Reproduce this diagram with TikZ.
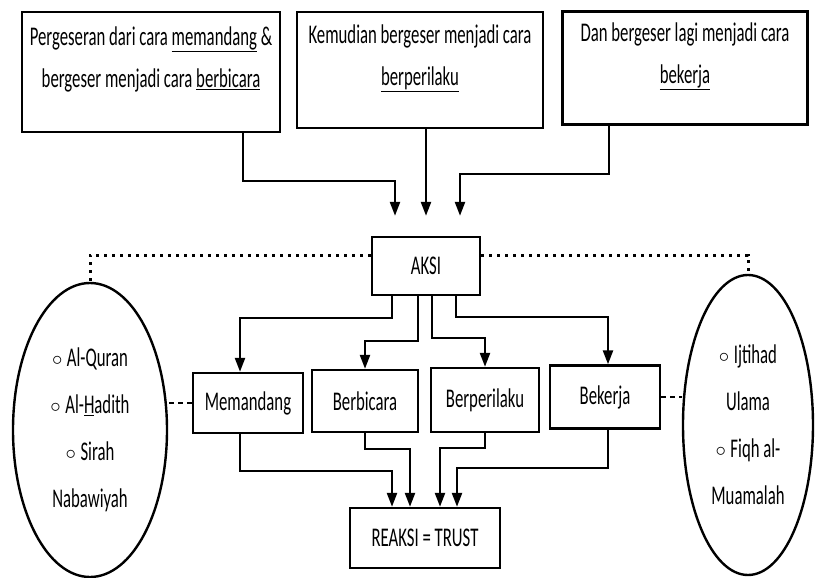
\documentclass[tikz,border=0pt]{standalone}
\usepackage{fontspec}
\setmainfont{Carlito}[FakeStretch=0.62]
\usetikzlibrary{arrows.meta,shapes.geometric}
\newcommand\bul{\raisebox{1.5pt}{\fontsize{21}{21}\selectfont$\circ$}}

\begin{document}
\begin{tikzpicture}
  [x=1pt, y=-1pt, line width=2.4pt, >={Triangle[length=14pt,width=10pt]},
   box/.style={draw, rectangle, inner sep=0pt, font=\fontsize{27}{42}\selectfont},
   shiftbox/.style={box, align=center, text depth=30pt},
   dalilbox/.style={draw, ellipse, inner sep=0pt, align=center, font=\fontsize{27}{47}\selectfont},
   dots/.style={line width=3pt, dash pattern=on 3pt off 5pt},
   dashes/.style={line width=2pt, dash pattern=on 5pt off 4pt}]
  \useasboundingbox (0,0) rectangle (815,578);
  \node[shiftbox, minimum width=258, minimum height=120] (s1) at (151,72)
    {Pergeseran dari cara \underline{memandang} \&\\ bergeser menjadi cara \underline{berbicara}};
  \node[shiftbox, minimum width=246, minimum height=116] (s2) at (420,70)
    {Kemudian bergeser menjadi cara\\ \underline{berperilaku}};
  \node[shiftbox, minimum width=245, minimum height=113] (s3) at (685,68)
    {Dan bergeser lagi menjadi cara\\ \underline{bekerja}};
  \node[box, minimum width=108, minimum height=58] (aksi) at (426,266) {AKSI};
  \node[box, minimum width=110, minimum height=60] (m1) at (248,403) {Memandang};
  \node[box, minimum width=106, minimum height=62] (m2) at (365,401) {Berbicara};
  \node[box, minimum width=108, minimum height=64] (m3) at (485,400) {Berperilaku};
  \node[box, minimum width=110, minimum height=63] (m4) at (605,397) {Bekerja};
  \node[box, minimum width=150, minimum height=60] (reaksi) at (425,538) {REAKSI = TRUST};
  \node[dalilbox, minimum width=154, minimum height=294] (dalil) at (90,430)
    {\bul\,Al-Quran\\ \bul\,Al-\underline{H}adith\\ \bul\,Sirah\\ Nabawiyah};
  \node[dalilbox, minimum width=130, minimum height=300] (ijtihad) at (748,425)
    {\bul\,Ijtihad\\ Ulama\\ \bul\,Fiqh al-\\ Muamalah};

  % pergeseran -> aksi
  \draw[->, shorten >=20pt] ([xshift=92pt]s1.south) -- ++(0,48) -| ([xshift=-31pt]aksi.north);
  \draw[->, shorten >=20pt] (s2.south -| aksi.north) -- (aksi.north);
  \draw[->, shorten >=20pt] ([xshift=-76pt]s3.south) -- ++(0,48) -| ([xshift=34pt]aksi.north);

  % aksi -> cara
  \foreach \dx/\dy/\to/\mx in {-34/22/m1/-8, -8/45/m2/0, 6/42/m3/0, 30/21/m4/3}
  \draw[->] ([xshift=\dx pt]aksi.south) -- ++(0,\dy) -| ([xshift=\mx pt]\to.north);

  % cara -> reaksi
  \foreach \from/\mx/\dy/\dx in {m1/-8/37/-33, m2/0/16/-15, m3/0/15/15, m4/3/38/32}
  \draw[->] ([xshift=\mx pt]\from.south) -- ++(0,\dy) -| ([xshift=\dx pt]reaksi.north);

  \draw[dots] ([yshift=11pt]aksi.west) -| (dalil.north);
  \draw[dots] ([yshift=11pt]aksi.east) -| (ijtihad.north);
  \draw[dashes] (m1.west) -- (m1.west -| dalil.east);
  \draw[dashes] (m4.east) -- (m4.east -| ijtihad.west);
\end{tikzpicture}
\end{document}
